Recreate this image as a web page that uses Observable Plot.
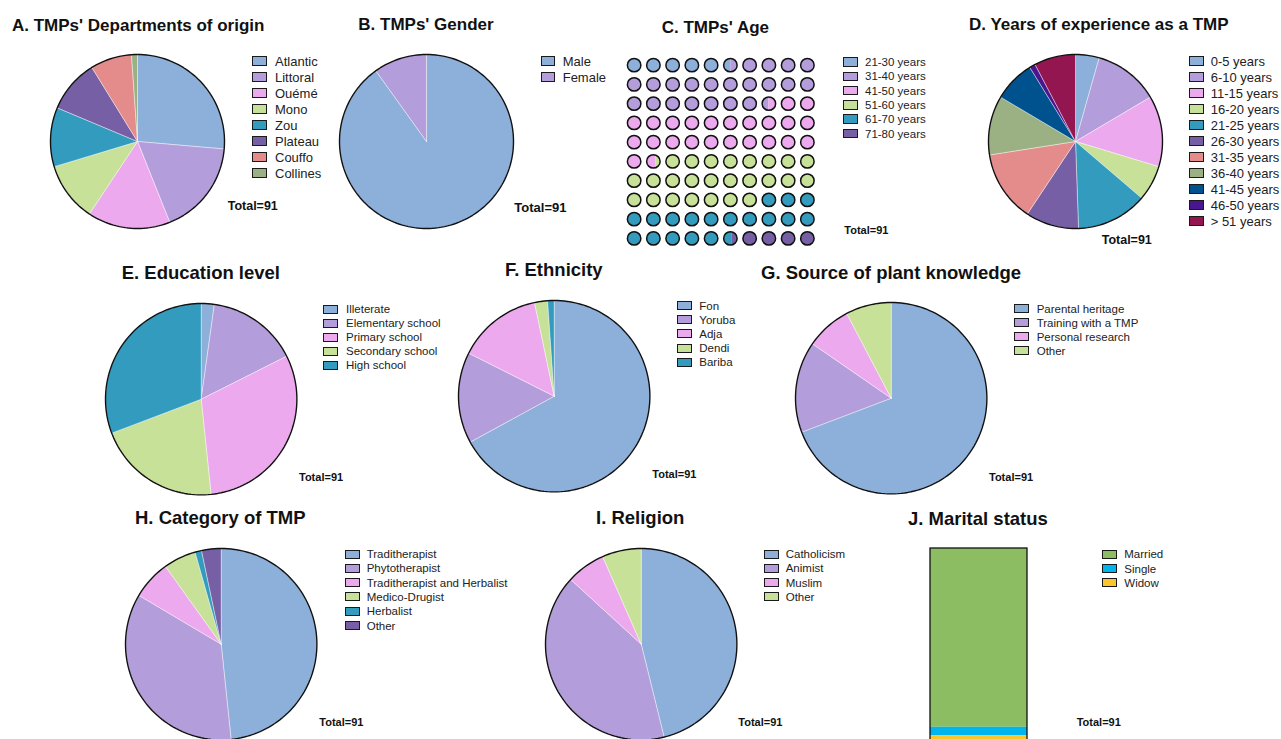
<!DOCTYPE html>
<html><head><meta charset="utf-8">
<script src="https://cdn.jsdelivr.net/npm/d3@7"></script>
<script src="https://cdn.jsdelivr.net/npm/@observablehq/plot@0.6"></script>
<style>
html,body{margin:0;padding:0;background:#fff;overflow:hidden;}
#root{position:relative;width:1281px;height:739px;overflow:hidden;font-family:"Liberation Sans",Arial,Helvetica,sans-serif;color:#111;}
.title,.total,.row{position:absolute;white-space:nowrap;}
.title,.total{font-weight:bold;line-height:1;}
.row{display:flex;align-items:center;color:#222;}
.sw{box-sizing:border-box;border:1.3px solid #1a1a1a;flex:none;}
.plotbox{position:absolute;}
.plotbox svg{display:block;overflow:visible;}
</style></head><body><div id="root"></div>
<script>
// ---------------- data ----------------
const deptLabels = ["Atlantic","Littoral","Ouémé","Mono","Zou","Plateau","Couffo","Collines"];
const deptValues = [24,16,14,10,10,9,7,1];
const genderLabels = ["Male","Female"];
const genderValues = [82,9];
const ageLabels = ["21-30 years","31-40 years","41-50 years","51-60 years","61-70 years","71-80 years"];
const ageValues = [5,20,22,23,17,4];
const expLabels = ["0-5 years","6-10 years","11-15 years","16-20 years","21-25 years","26-30 years","31-35 years","36-40 years","41-45 years","46-50 years","> 51 years"];
const expValues = [4,11,12,6,12,9,12,10,7,1,7];
const eduLabels = ["Illeterate","Elementary school","Primary school","Secondary school","High school"];
const eduValues = [2,14,28,19,28];
const ethLabels = ["Fon","Yoruba","Adja","Dendi","Bariba"];
const ethValues = [61,14,13,2,1];
const srcLabels = ["Parental heritage","Training with a TMP","Personal research","Other"];
const srcValues = [63,14,7,7];
const catLabels = ["Traditherapist","Phytotherapist","Traditherapist and Herbalist","Medico-Drugist","Herbalist","Other"];
const catValues = [44,32,6,5,1,3];
const relLabels = ["Catholicism","Animist","Muslim","Other"];
const relValues = [42,37,6,6];
const marLabels = ["Married","Single","Widow"];
const marValues = [83,4,4];
const titles = ["A. TMPs' Departments of origin","B. TMPs' Gender","C. TMPs' Age","D. Years of experience as a TMP",
  "E. Education level","F. Ethnicity","G. Source of plant knowledge","H. Category of TMP","I. Religion","J. Marital status"];
const totalLabel = "Total=91";

// ---------------- styles ----------------
const palette = ["#8DB0DA","#B39DDA","#EDA9EE","#C7E199","#339BBE","#765FA5","#E48B8B","#9BB184","#00528F","#4A168F","#931650"];
const marPalette = ["#8DBD62","#00B4EE","#FBC52E"];

const root = document.getElementById("root");

function place(node, left, top) {
  const d = document.createElement("div");
  d.className = "plotbox";
  d.style.left = left + "px"; d.style.top = top + "px";
  d.appendChild(node);
  root.appendChild(d);
}
function title(text, x, baseline, size) {
  const d = document.createElement("div");
  d.className = "title"; d.textContent = text;
  d.style.fontSize = size + "px";
  d.style.left = x + "px"; d.style.top = (baseline - 0.8465 * size) + "px";
  root.appendChild(d);
}
function total(x, yc, size) {
  const d = document.createElement("div");
  d.className = "total"; d.textContent = totalLabel;
  d.style.fontSize = size + "px";
  d.style.left = x + "px"; d.style.top = (yc - size / 2) + "px";
  root.appendChild(d);
}
function legend(labels, colors, swx, y0, sp, font, sww, swh, tx) {
  labels.forEach((lab, i) => {
    const r = document.createElement("div");
    r.className = "row";
    r.style.left = swx + "px";
    r.style.top = (y0 + i * sp - 10) + "px";
    r.style.height = "20px";
    r.style.fontSize = font + "px";
    const s = document.createElement("div");
    s.className = "sw"; s.style.width = sww + "px"; s.style.height = swh + "px"; s.style.background = colors[i];
    const t = document.createElement("span");
    t.textContent = lab; t.style.marginLeft = (tx - swx - sww) + "px";
    r.appendChild(s); r.appendChild(t);
    root.appendChild(r);
  });
}

function piePlot(labels, values, R) {
  const arcs = d3.pie().sort(null).value(d => d)(values);
  const pts = [];
  arcs.forEach((a, i) => {
    const n = Math.max(2, Math.ceil((a.endAngle - a.startAngle) / (Math.PI / 120)));
    pts.push({id: i, label: labels[i], x: 0, y: 0});
    for (let k = 0; k <= n; k++) {
      const t = a.startAngle + (a.endAngle - a.startAngle) * k / n;
      pts.push({id: i, label: labels[i], x: Math.sin(t), y: Math.cos(t)});
    }
    pts.push({id: i, label: labels[i], x: 0, y: 0});
  });
  const ring = d3.range(0, 361, 2).map(d => ({x: Math.sin(d * Math.PI / 180), y: Math.cos(d * Math.PI / 180)}));
  const pad = 3;
  const size = 2 * R + 2 * pad;
  const ext = 1 + pad / R;
  return Plot.plot({
    width: size, height: size, margin: 0,
    x: {domain: [-ext, ext], axis: null},
    y: {domain: [-ext, ext], axis: null},
    color: {domain: labels, range: palette.slice(0, labels.length)},
    marks: [
      Plot.line(pts, {x: "x", y: "y", z: "id", fill: "label", stroke: "#ffffff", strokeWidth: 0.5, strokeOpacity: 0.8, curve: "linear"}),
      Plot.line(ring, {x: "x", y: "y", stroke: "#111", strokeWidth: 1.4, curve: "linear"})
    ]
  });
}

function wafflePlot(labels, values, cell) {
  const tot = d3.sum(values);
  const bounds = [0, ...d3.cumsum(values)].map(v => v / tot * 100);
  const r = 0.35;
  const parts = [], cells = [];
  for (let k = 0; k < 100; k++) {
    const col = k % 10, row = Math.floor(k / 10);
    cells.push({x: col, y: row});
    labels.forEach((lab, i) => {
      const lo = Math.max(k, bounds[i]), hi = Math.min(k + 1, bounds[i + 1]);
      if (hi - lo > 1e-6) {
        const ua = -1 + 2 * (lo - k), ub = -1 + 2 * (hi - k);
        const pa = Math.acos(-ua), pb = Math.acos(-ub);
        const n = 24, id = k + "-" + i;
        for (let j = 0; j <= n; j++) { const p = pa + (pb - pa) * j / n; parts.push({id, label: lab, x: col - r * Math.cos(p), y: row - r * Math.sin(p)}); }
        for (let j = n; j >= 0; j--) { const p = pa + (pb - pa) * j / n; parts.push({id, label: lab, x: col - r * Math.cos(p), y: row + r * Math.sin(p)}); }
      }
    });
  }
  return Plot.plot({
    width: 10 * cell, height: 10 * cell, margin: 0,
    x: {domain: [-0.5, 9.5], axis: null},
    y: {domain: [-0.5, 9.5], reverse: true, axis: null},
    color: {domain: labels, range: palette.slice(0, labels.length)},
    marks: [
      Plot.line(parts, {x: "x", y: "y", z: "id", fill: "label", stroke: "none", curve: "linear"}),
      Plot.dot(cells, {x: "x", y: "y", r: r * cell, stroke: "#111", strokeWidth: 1.5, fill: "none"})
    ]
  });
}

function barPlot(labels, values) {
  const data = labels.map((label, i) => ({label, value: values[i]}));
  const tot = d3.sum(values);
  return Plot.plot({
    width: 101, height: 200, marginLeft: 2, marginRight: 2, marginTop: 2, marginBottom: 2,
    x: {axis: null, padding: 0},
    y: {axis: null, domain: [0, tot]},
    color: {domain: labels, range: marPalette},
    marks: [
      Plot.barY(data, {x: () => "all", y: "value", fill: "label", order: null, reverse: true}),
      Plot.barY([{v: tot}], {x: () => "all", y: "v", fill: "none", stroke: "#111", strokeWidth: 1.3})
    ]
  });
}

// ---------------- layout ----------------
// A
title(titles[0], 12, 31, 17);
place(piePlot(deptLabels, deptValues, 87), 137.3 - 90, 140.7 - 90);
legend(deptLabels, palette, 252, 61, 16, 13, 14.5, 10.5, 275);
total(227.7, 206.7, 12.5);
// B
title(titles[1], 358.3, 30.7, 17);
place(piePlot(genderLabels, genderValues, 87), 426 - 90, 140.7 - 90);
legend(genderLabels, palette, 540.7, 61, 16, 13, 14.5, 10.5, 562.7);
total(514.3, 207.7, 13);
// C
title(titles[2], 661.7, 33, 17);
place(wafflePlot(ageLabels, ageValues, 19.25), 633.3 - 9.625, 65 - 9.625);
legend(ageLabels, palette, 843.3, 62, 14.3, 11.5, 15, 9.5, 865);
total(844.3, 230, 11);
// D
title(titles[3], 969, 30.7, 17);
place(piePlot(expLabels, expValues, 87), 1075 - 90, 140.7 - 90);
legend(expLabels, palette, 1189.3, 61, 16, 13, 15, 10.5, 1210.7);
total(1101.7, 240.7, 12.5);
// E
title(titles[4], 121.7, 280, 18.5);
place(piePlot(eduLabels, eduValues, 95.7), 201 - 98.7, 398.3 - 98.7);
legend(eduLabels, palette, 323.3, 309.3, 14, 11.5, 15, 9, 346);
total(299, 477.3, 11);
// F
title(titles[5], 505, 276.5, 18.5);
place(piePlot(ethLabels, ethValues, 95.7), 554 - 98.7, 395.5 - 98.7);
legend(ethLabels, palette, 677.3, 305.7, 14.1, 11.5, 15, 9, 699.3);
total(652.3, 474, 11);
// G
title(titles[6], 761, 279.5, 18.5);
place(piePlot(srcLabels, srcValues, 95.7), 891 - 98.7, 397.3 - 98.7);
legend(srcLabels, palette, 1014.3, 308.7, 14, 11.5, 15, 9, 1036.7);
total(989, 477.3, 11);
// H
title(titles[7], 135, 525, 18.5);
place(piePlot(catLabels, catValues, 95.7), 221 - 98.7, 644 - 98.7);
legend(catLabels, palette, 345.3, 554, 14.3, 11.5, 15, 9, 366.7);
total(319.3, 722.7, 11);
// I
title(titles[8], 596, 525, 18.5);
place(piePlot(relLabels, relValues, 95.7), 640.7 - 98.7, 644 - 98.7);
legend(relLabels, palette, 764.3, 554.3, 14.1, 11.5, 15, 9, 785.7);
total(738.3, 722.7, 11);
// J
title(titles[9], 908, 526, 18.5);
place(barPlot(marLabels, marValues), 928, 546);
legend(marLabels, marPalette, 1101.7, 554.3, 14.2, 11.5, 15, 9, 1124.3);
total(1076.7, 722.7, 11);
</script></body></html>
